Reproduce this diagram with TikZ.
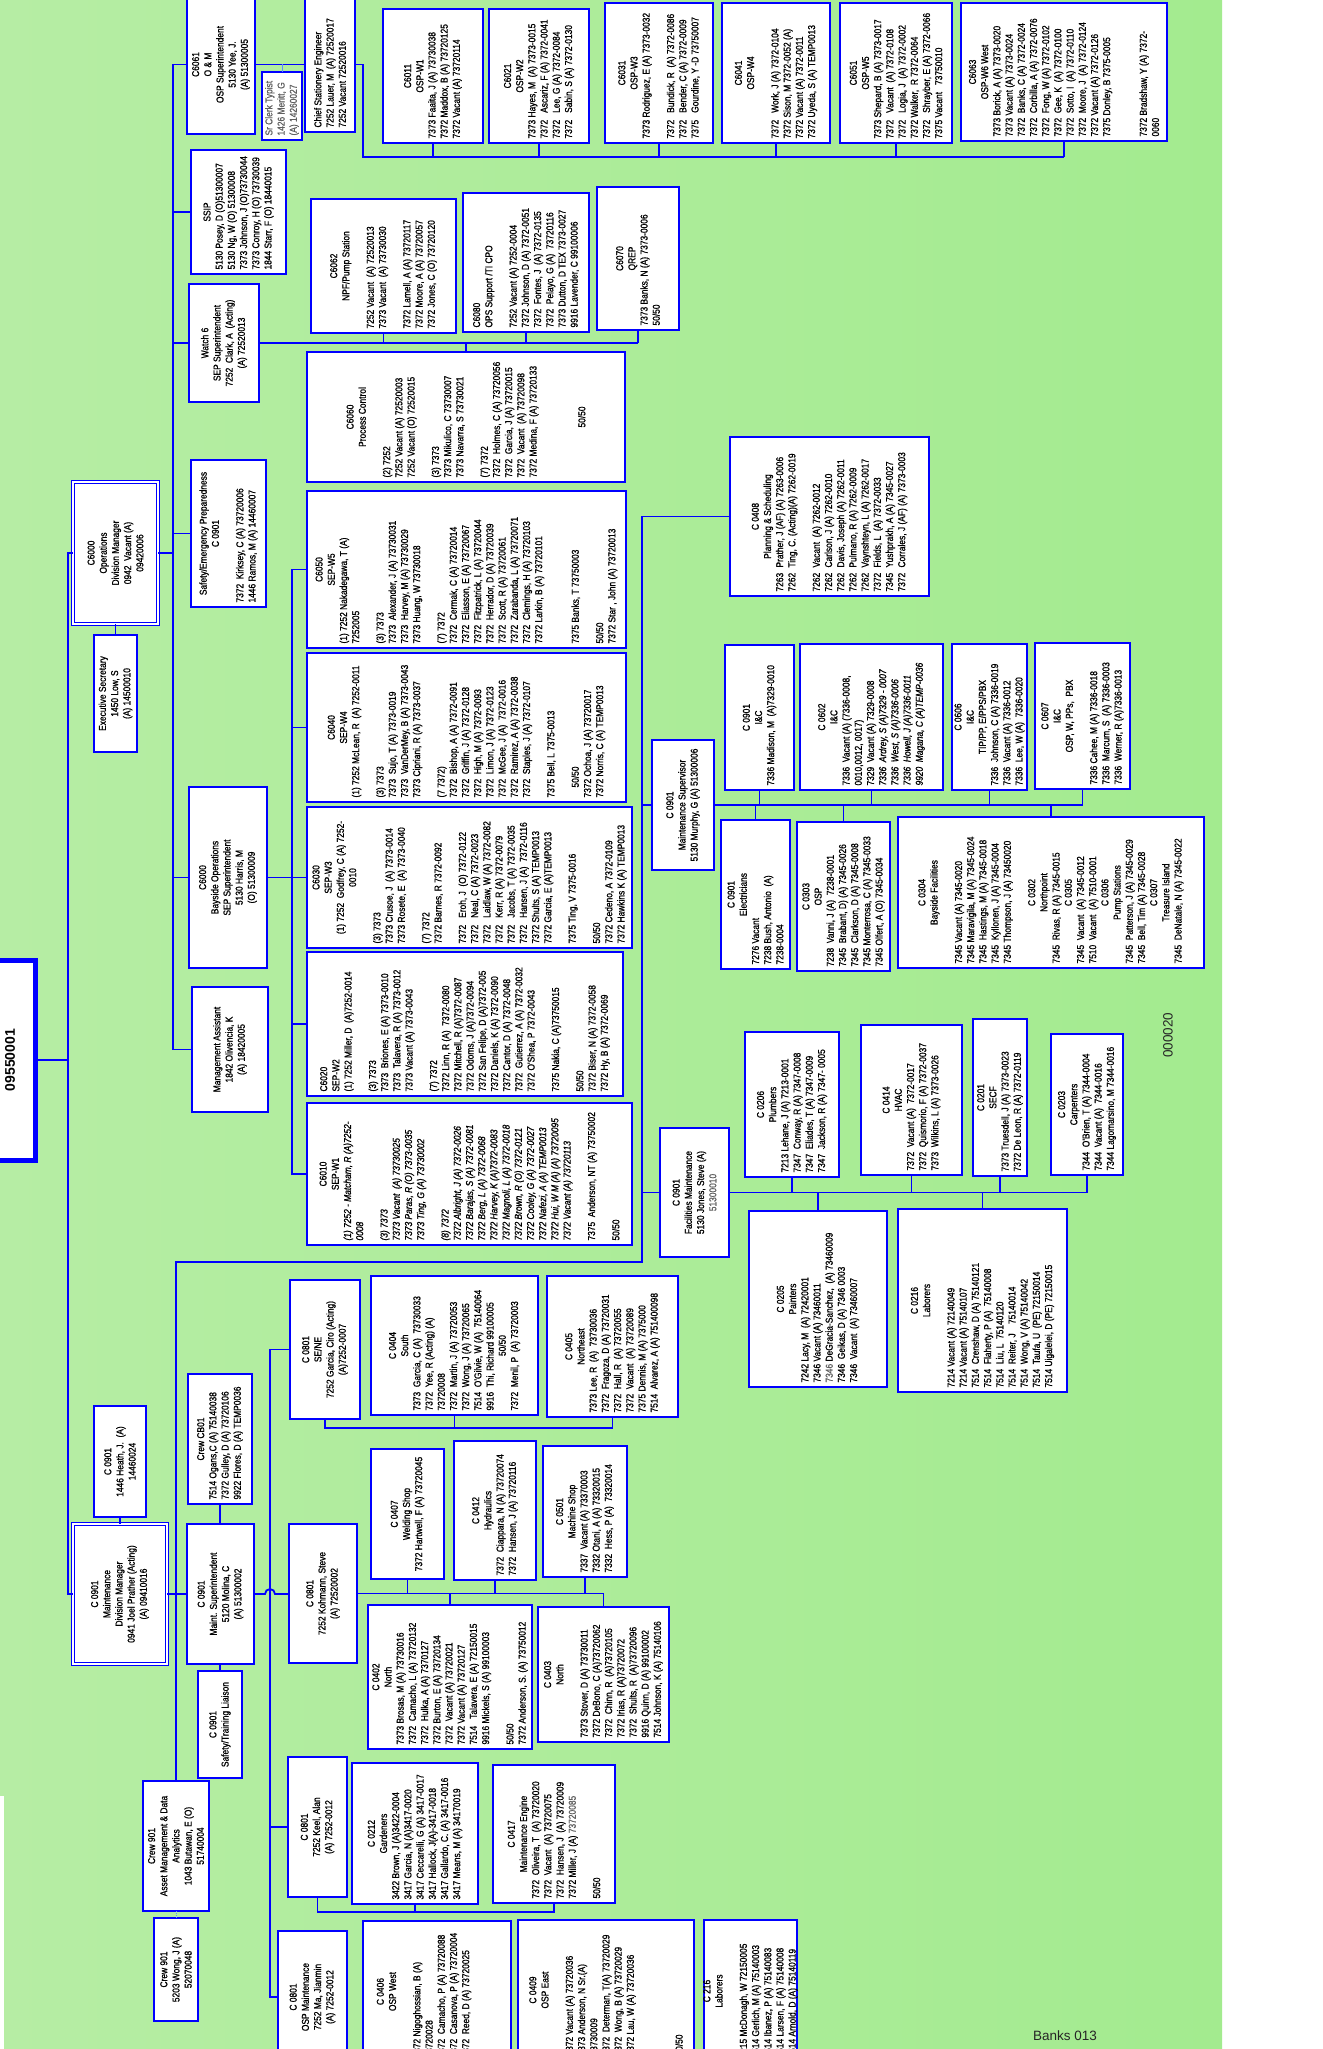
\documentclass[tikz,border=0pt]{standalone}
\usepackage{fontspec}
\newfontfamily\cond{Liberation Sans}[FakeStretch=0.84,FakeBold=1.0]
\newfontfamily\plainf{Liberation Sans}
\definecolor{grL}{HTML}{B6EDA4}
\definecolor{grR}{HTML}{A3EB8F}
\definecolor{lblue}{HTML}{5A8CFF}
\definecolor{txtgray}{HTML}{606060}
\newcommand\Ce[1]{\hbox to \hsize{\hss#1\hss}}
\newcommand\Li[1]{\hbox to \hsize{#1\hss}}
\newcommand\Bl{\hbox{}}
\newcommand\nb[1]{\makebox[2.4em][l]{#1}}
\newcommand\gr[1]{\textcolor{txtgray}{#1}}
\newcommand\obox[7][bx]{%
  \node[#1, minimum width={((#5)-(#3))*1pt}, minimum height={((#6)-(#4))*1pt}] (#2) at ({((#3)+(#5))/2},{((#4)+(#6))/2}) {};
  \pgfmathsetmacro\obtw{(#6)-(#4)-9}%
  \node[txt] at (#2.center) {\vbox{\hsize=\obtw pt #7}};}
\begin{document}
\begin{tikzpicture}[x=1pt,y=-1pt,
  bx/.style={draw=blue, line width=2pt, fill=white, inner sep=0pt, outer sep=0pt},
  dbx/.style={draw=blue, line width=1.1pt, double=white, double distance=2pt, fill=white, inner sep=0pt, outer sep=0pt},
  txt/.style={rotate=90, inner sep=0pt, outer sep=0pt, font=\cond\fontsize{10}{12.2}\selectfont, text=black},
  conn/.style={draw=blue, line width=1.8pt},
]
\useasboundingbox (0,0) rectangle (1322,2049);
\clip (0,0) rectangle (1322,2049);
\fill[white] (0,0) rectangle (1322,2049);
\shade[left color=grL, right color=grR] (0,0) rectangle (1222,2049);
\fill[white] (0,1796) rectangle (4,2049);

% ---------- top node
\node[draw=blue, line width=5pt, fill=white, minimum width=55pt, minimum height=200pt, inner sep=0pt, outer sep=0pt] (big) at (7.5,1060) {};
\node[rotate=90, font=\plainf\bfseries\fontsize{14}{16}\selectfont] at (10,1060) {09550001};

% ---------- operations
\obox[dbx]{ops}{73}{482}{158}{624}{\Ce{C6000}\Ce{Operations}\Ce{Division Manager}\Ce{0942~ Vacant (A)}\Ce{09420006}}
\obox{exec}{94}{635}{137}{752}{\Ce{Executive Secretary}\Ce{1450 Low, S}\Ce{(A) 14500010}}
\obox{c6061}{187}{-5}{255}{134}{\Ce{C6061}\Ce{O \& M}\Ce{OSP Superintendent}\Ce{5130 Yee, J.}\Ce{(A) 51300005}}
\obox{srclerk}{262}{72}{302}{140}{\Li{\gr{Sr Clerk Typist}}\Li{\gr{1426 Meritt, G}}\Li{\gr{(A) 14260027}}}
\obox{chief}{305}{-5}{355}{132}{\Li{Chief Stationery Engineer}\Li{7252 Lauer, M~ (A) 72520017}\Li{7252 Vacant 72520016}}
\obox{ssip}{191}{150}{286}{274}{\Ce{SSIP}\Li{5130 Posey, D (O)51300007}\Li{5130 Ng, W (O) 51300008}\Li{7373 Johnson, J (O)73730044}\Li{7373 Conroy, H (O) 73730039}\Li{1844 Starr, F (O) 18440015}}
\obox{watch}{189}{284}{259}{402}{\Ce{Watch 6}\Ce{SEP Superintendent}\Ce{7252~ Clark, A~ (Acting)}\Ce{(A) 72520013}}
\obox{safety}{191}{460}{266}{607}{\Ce{Safety/Emergency Preparedness}\Ce{C 0901}\Bl\Li{7372~ Kirksey, C (A) 73720006}\Li{1446 Ramos, M (A) 14460007}}
\obox{bayside}{189}{787}{267}{968}{\Ce{C6000}\Ce{Bayside Operations}\Ce{SEP Superintendent}\Ce{5130 Harris, M}\Ce{(O) 51300009}}
\obox{mgmt}{192}{987}{268}{1112}{\Ce{Management Assistant}\Ce{1842 Olivencia, K}\Ce{(A) 18420005}}

\obox{c6011}{383}{9}{483}{143}{\Ce{C6011}\Ce{OSP-W1}\Li{7373 Faaita, J (A) 73730038}\Li{7372 Maddox, B (A) 73720125}\Li{7372 Vacant (A) 73720114}}
\obox{c6021}{489}{9}{589}{143}{\Ce{C6021}\Ce{OSP-W2}\Li{7373 Hayes, M~ (A) 7373-0015}\Li{7372~~ Ascariz, F (A) 7372-0041}\Li{7372~~ Lee, G (A) 7372-0084}\Li{7372~~ Sabin, S (A) 7372-0130}}
\obox{c6031}{605}{3}{713}{143}{\Ce{C6031}\Ce{OSP-W3}\Li{7373 Rodriguez, E (A) 7373-0032}\Bl\Li{7372~~ Bundick, R~ (A) 7372-0086}\Li{7372~~ Bender, C (A) 7372-0009}\Li{7375~~ Gourdine, Y -D 73750007}}
\obox{c6041}{722}{3}{830}{143}{\Ce{C6041}\Ce{OSP-W4}\Bl\Li{7372~~ Work, J (A) 7372-0104}\Li{7372 Sison, M 7372-0052 (A)}\Li{7372 Vacant (A) 7372-0011}\Li{7372 Uyeda, S (A) TEMP0013}}
\obox{c6051}{840}{3}{952}{143}{\Ce{C6051}\Ce{OSP-W5}\Li{7373 Shepard, B (A) 7373-0017}\Li{7372~~ Vacant~ (A) 7372-0108}\Li{7372~~ Logia, J~ (A) 7372-0002}\Li{7372 Walker,~ R 7372-0064}\Li{7372~~ Shrayber, E (A) 7372-0066}\Li{7375 Vacant~~ 73750010}}
\obox{c6063}{961}{3}{1167}{141}{\Ce{C6063}\Ce{OSP-W6 West}\Li{7373 Borick, A (A) 7373-0020}\Li{7373 Vacant (A) 7373-0024}\Li{7372~ Banks, C (A) 7372-0024}\Li{7372~ Corbilla, A (A) 7372-0076}\Li{7372~ Fong, W (A) 7372-0102}\Li{7372~ Gee, K~ (A) 7372-0100}\Li{7372~ Sotto, I~ (A) 7372-0110}\Li{7372~ Moore, J~ (A) 7372-0124}\Li{7372 Vacant (A) 7372-0126}\Li{7375 Donley, B 7375-0005}\Bl\Bl\Li{7372 Bradshaw, Y (A) 7372-}\Li{0060}}

\obox{c6062}{311}{199}{456}{333}{\Ce{C6062}\Ce{NPF/Pump Station}\Bl\Li{7252 Vacant~ (A) 72520013}\Li{7373 Vacant~ (A) 73730030}\Bl\Li{7372 Lamell, A (A) 73720117}\Li{7372 Moore, A (A) 73720057}\Li{7372 Jones, C (O) 73720120}}
\obox{c6080}{463}{193}{589}{332}{\Li{C6080}\Li{OPS Support /TI CPO}\Bl\Li{7252 Vacant (A) 7252-0004}\Li{7372 Johnson, D (A) 7372-0051}\Li{7372~ Fontes, J~ (A) 7372-0135}\Li{7372~ Pelayo, G (A)~ 73720116}\Li{7373 Dutton, D TEX 7373-0027}\Li{9916 Lavender, C 99100006}}
\obox{c6070}{597}{187}{679}{330}{\Ce{C6070}\Ce{QREP}\Li{7373 Banks, N (A) 7373-0006}\Li{50/50}}
\obox{c6060}{307}{352}{625}{482}{\Ce{C6060}\Ce{Process Control}\Bl\Li{(2) 7252}\Li{7252 Vacant (A) 72520003}\Li{7252 Vacant (O) 72520015}\Bl\Li{(3) 7373}\Li{7373 Mikulico, C 73730007}\Li{7373 Navarra, S 73730021}\Bl\Li{(7) 7372}\Li{7372~ Holmes, C (A) 73720056}\Li{7372~ Garcia, J (A) 73720015}\Li{7372~ Vacant~ (A) 73720098}\Li{7372 Medina, F (A) 73720133}\Bl\Bl\Bl\Ce{50/50}}

\obox{c6050}{307}{491}{626}{648}{\Ce{C6050}\Ce{SEP-W5}\Li{(1) 7252 Nakadegawa, T (A)}\Li{7252005}\Bl\Li{(3) 7373}\Li{7373~ Alexander, J (A) 73730031}\Li{7373~ Harvey, M (A) 73730029}\Li{7373 Huang, W 73730018}\Bl\Li{(7) 7372}\Li{7372~ Cermak, C (A) 73720014}\Li{7372~ Eliasson, E (A) 73720067}\Li{7372~ Fitzpatrick, L (A) 73720044}\Li{7372~ Herrador, D (A) 73720039}\Li{7372~ Scott, R (A) 73720061}\Li{7372~ Zarabanda, L (A) 73720071}\Li{7372~ Clemings, H (A) 73720103}\Li{7372 Larkin, B (A) 73720101}\Bl\Bl\Li{7375 Banks, T 73750003}\Bl\Li{50/50}\Li{7372 Star , John (A) 73720013}}
\obox{c6040}{307}{653}{626}{802}{\Ce{C6040}\Ce{SEP-W4}\Li{(1) 7252 McLean, R~ (A) 7252-0011}\Bl\Li{(3) 7373}\Li{7373~ Sujo, T (A) 7373-0019}\Li{7373~ VanDerMey, B (A) 7373-0043}\Li{7373 Cipriani, R (A) 7373-0037}\Bl\Li{(7 7372)}\Li{7372~ Bishop, A (A) 7372-0091}\Li{7372~ Griffin, J (A) 7372-0128}\Li{7372~ High, M (A) 7372-0093}\Li{7372~ Limon, J (A) 7372-0123}\Li{7372~ McGee, J (A)~ 7372-0016}\Li{7372~ Ramirez, A (A) 7372-0038}\Li{7372~ Staples, J (A) 7372-0107}\Bl\Li{7375 Bell, L 7375-0013}\Bl\Li{\hspace{10pt}50/50}\Li{7372 Ochoa, J (A) 73720017}\Li{7372 Norris, C (A) TEMP0013}}
\obox{c6030}{307}{807}{632}{948}{\Ce{C6030}\Ce{SEP-W3}\Ce{(1) 7252~ Godfrey, C (A) 7252-}\Ce{0010}\Bl\Li{(3) 7373}\Li{7373 Crusoe, J~ (A) 7373-0014}\Li{7373 Rosete, E~ (A) 7373-0040}\Bl\Li{(7) 7372}\Li{7372 Barnes, R 7372-0092}\Bl\Li{7372~~ Eroh, J~ (O) 7372-0122}\Li{7372~~ Neal, C (A) 7372-0023}\Li{7372~~ Laidlaw, W (A) 7372-0082}\Li{7372~~ Kerr, R (A) 7372-0079}\Li{7372~~ Jacobs, T (A) 7372-0035}\Li{7372~~ Hansen, J (A)~ 7372-0116}\Li{7372 Shults, S (A) TEMP0013}\Li{7372 Garcia, E (A)TEMP0013}\Bl\Li{7375 Ting, V 7375-0016}\Bl\Li{50/50}\Li{7372 Cedeno, A 7372-0109}\Li{7372 Hawkins K (A) TEMP0013}}
\obox{c6020}{307}{952}{623}{1096}{\Li{C6020}\Li{SEP-W2}\Li{(1) 7252 Miller, D~ (A)7252-0014}\Bl\Li{(3) 7373}\Li{7373~ Briones, E (A) 7373-0010}\Li{7373~ Talavera, R (A) 7373-0012}\Li{7373 Vacant (A) 7373-0043}\Bl\Li{(7) 7372}\Li{7372 Linn, R (A)~ 7372-0080}\Li{7372 Mitchell, R (A)7372-0087}\Li{7372 Odoms, J (A)7372-0094}\Li{7372 San Felipe, D (A)7372-005}\Li{7372 Daniels, K (A) 7372-0090}\Li{7372 Cantor, D (A) 7372-0048}\Li{7372~ Gutierrez, A (A) 7372-0032}\Li{7372 O'Shea, P 7372-0043}\Bl\Li{7375 Nakia, C (A)73750015}\Bl\Li{50/50}\Li{7372 Biser, N (A) 7372-0058}\Li{7372 Hy, B (A) 7372-0069}}
\obox{c6010}{307}{1103}{632}{1245}{\Ce{C6010}\Ce{SEP-W1}\Li{\itshape (1) 7252 - Matcham, R (A)7252-}\Li{\itshape 0008}\Bl\Li{\itshape (3) 7373}\Li{\itshape 7373 Vacant~ (A) 73730025}\Li{\itshape 7373 Paras, R (O) 7373-0035}\Li{\itshape 7373 Ting, G (A) 73730002}\Bl\Li{\itshape (8) 7372}\Li{\itshape 7372 Albright, J (A) 7372-0026}\Li{\itshape 7372 Barajas, S (A) 7372-0081}\Li{\itshape 7372 Berg, L (A) 7372-0068}\Li{\itshape 7372 Harvey, K (A)7372-0083}\Li{\itshape 7372 Magnoli, L (A) 7372-0018}\Li{\itshape 7372 Brown, R (O) 7372-0121}\Li{\itshape 7372 Cooley, G (A) 7372-0027}\Li{\itshape 7372 Nafezi, A (A) TEMP0013}\Li{\itshape 7372 Hui, W M (A) (A) 73720095}\Li{\itshape 7372 Vacant (A) 73720113}\Bl\Li{7375~ Anderson, NT (A) 73750002}\Bl\Li{50/50}}

% ---------- maintenance
\obox[dbx]{mdm}{73}{1524}{167}{1664}{\Ce{C 0901}\Ce{Maintenance}\Ce{Division Manager}\Ce{0941 Joel Prather (Acting)}\Ce{(A) 09410016}}
\obox{heath}{94}{1406}{146}{1517}{\Ce{C 0901}\Ce{1446 Heath, J.~ (A)}\Ce{14460024}}
\obox{msup}{187}{1524}{254}{1664}{\Ce{C 0901}\Ce{Maint. Superintendent}\Ce{5120 Molina, C}\Ce{(A) 51300002}}
\obox{cb01}{188}{1374}{252}{1504}{\Ce{Crew CB01}\Li{7514 Ogans,C (A) 75140038}\Li{7372 Gulley, D (A) 73720106}\Li{9922 Flores, D (A) TEMP0036}}
\obox{saftr}{198}{1671}{242}{1778}{\Ce{C 0901}\Ce{Safety/Training Liaison}}
\obox{asset}{143}{1781}{209}{1911}{\Ce{Crew 901}\Ce{Asset Management \& Data}\Ce{Analytics}\Ce{1043 Butawan, E (O)}\Ce{51740004}}
\obox{wong}{154}{1918}{198}{2021}{\Ce{Crew 901}\Ce{5203 Wong, J (A)}\Ce{52070048}}
\obox{sene}{290}{1280}{360}{1419}{\Ce{C 0801}\Ce{SE/NE}\Ce{7252 Garcia, Ciro (Acting)}\Ce{(A)7252-0007}}
\obox{c0404}{371}{1276}{538}{1415}{\Ce{C 0404}\Ce{South}\Li{7373~ Garcia, C (A)~ 73730033}\Li{7372~ Yee, R (Acting) (A)}\Li{73720008}\Li{7372~ Martin, J (A) 73720053}\Li{7372~ Wong, J (A) 73720065}\Li{7514~ O'Gilvie, W (A)~ 75140064}\Li{9916~ Thi, Richard 99100005}\Ce{50/50}\Li{7372~ Menil, P~ (A) 73720003}}
\obox{c0405}{547}{1276}{678}{1417}{\Ce{C 0405}\Ce{Northeast}\Li{7373 Lee, R~ (A)~ 73730036}\Li{7372~ Fragoza, D (A) 73720031}\Li{7372~ Hall, R~ (A) 73720055}\Li{7372~ Vacant~ (A) 73720089}\Li{7375 Dennis, M (A) 7375000}\Li{7514~ Alvarez, A (A) 751400098}}
\obox{kohm}{289}{1524}{357}{1663}{\Ce{C 0801}\Ce{7252 Kohmann, Steve}\Ce{(A) 72520002}}
\obox{c0407}{371}{1449}{444}{1579}{\Ce{C 0407}\Ce{Welding Shop}\Ce{7372 Hartwell, F (A) 73720045}}
\obox{c0412}{454}{1441}{536}{1580}{\Ce{C 0412}\Ce{Hydraulics}\Li{7372~ Ciappara, N (A) 73720074}\Li{7372~ Hansen, J (A) 73720116}}
\obox{c0501}{543}{1446}{627}{1577}{\Ce{C 0501}\Ce{Machine Shop}\Li{7337~ Vacant (A) 73370003}\Li{7332 Otani, A (A) 73320015}\Li{7332~ Hess, P (A)~ 73320014}}
\obox{c0402}{368}{1605}{532}{1749}{\Ce{C 0402}\Ce{North}\Li{7373 Brosas, M (A) 73730016}\Li{7372~ Camacho, L (A) 73720132}\Li{7372~ Hulka, A (A) 7370127}\Li{7372 Burton, E (A) 73720134}\Li{7372~ Vacant (A) 73720021}\Li{7372 Vacant (A) 73720127}\Li{7514~~ Talavera, E (A) 72150015}\Li{9916 Mickels, S (A) 99100003}\Bl\Li{50/50}\Li{7372 Anderson, S. (A) 73750012}}
\obox{c0403}{538}{1607}{669}{1742}{\Ce{C 0403}\Ce{North}\Bl\Li{7373 Stover, D (A) 73730011}\Li{7372 DeBono, C (A)73720062}\Li{7372~ Chinn, R~ (A)73720105}\Li{7372 Irias, R (A)73720072}\Li{7372~ Shults, R~ (A)73720096}\Li{9916 Quinn, D (A) 99100002}\Li{7514 Johnson, K (A) 75140106}}
\obox{keel}{288}{1757}{347}{1897}{\Ce{C 0801}\Ce{7252 Keel, Alan}\Ce{(A) 7252-0012}}
\obox{c0212}{352}{1763}{478}{1904}{\Ce{C 0212}\Ce{Gardeners}\Li{3422 Brown, J (A)3422-0004}\Li{3417 Garcia, N (A)3417-0020}\Li{3417 Ceccarelli, G (A) 3417-0017}\Li{3417 Hallock, J(A)-3417-0018}\Li{3417 Gallardo, C. (A) 3417-0016}\Li{3417 Means, M (A) 34170019}}
\obox{c0417}{493}{1765}{615}{1903}{\Ce{C 0417}\Ce{Maintenance Engine}\Li{7372~ Oliveira, T~ (A) 73720020}\Li{7372~ Vacant~ (A) 73720075}\Li{7372~ Hansen, J~ (A) 73720009}\Li{7372 Miller, J (A) \gr{73720085}}\Bl\Li{50/50}}
\obox{ospm}{278}{1931}{347}{2063}{\Ce{C 0801}\Ce{OSP Maintenance}\Ce{7252 Ma, Jianmin}\Ce{(A) 7252-0012}}
\obox{c0406}{363}{1921}{511}{2062}{}
\node[txt] at ([xshift=-13pt]c0406.center) {\vbox{\hsize=132pt \Ce{C 0406}\Ce{OSP West}\Bl\Li{7372 Nigoghossian, B (A)}\Li{73720028}\Li{7372~ Camacho, P (A) 73720088}\Li{7372~ Casanova, P (A) 73720004}\Li{7372~ Reed, D (A) 73720025}}};
\obox{c0409}{518}{1920}{694}{2060}{\Ce{C 0409}\Ce{OSP East}\Bl\Li{7372 Vacant (A) 73720036}\Li{7373 Anderson, N Sr.(A)}\Li{73730009}\Li{7372~ Determan, T(A) 73720029}\Li{7372~ Wong, B (A) 73720029}\Li{7372 Lau, W (A) 73720036}\Bl\Bl\Bl\Li{50/50}}
\obox{c216}{704}{1920}{797}{2062}{\Ce{C 216}\Ce{Laborers}\Bl\Li{7215 McDonagh, W 72150005}\Li{7514 Gerlich, M (A) 75140003}\Li{7514 Ibanez, P (A) 75140083}\Li{7514 Larsen, F (A) 75140008}\Li{7514 Arnold, D (A) 75140119}}

\obox{c0408}{730}{437}{929}{596}{\Ce{C 0408}\Ce{Planning \& Scheduling}\Li{\nb{7263}Prather, J (AF) (A) 7263-0006}\Li{\nb{7262}Ting, C. (Acting)(A) 7262-0019}\Bl\Li{\nb{7262}Vacant~ (A) 7262-0012}\Li{\nb{7262}Carlson, J (A) 7262-0010}\Li{\nb{7262}Davis, Joseph (A) 7262-0011}\Li{\nb{7262}Pulmano, R (A) 7262-0009}\Li{\nb{7262}Vaynshteyn, L (A) 7262-0017}\Li{\nb{7372}Fields, L~ (A) 7372-0033}\Li{\nb{7345}Yushprakh, A (A) 7345-0027}\Li{\nb{7372}Corrales, J (AF) (A) 7373-0003}}
\obox{msv}{652}{740}{714}{870}{\Ce{C 0901}\Ce{Maintenance Supervisor}\Ce{5130 Murphy, G (A) 51300006}}
\obox{c0901ic}{725}{645}{794}{790}{\Ce{C 0901}\Ce{I\&C}\Li{7336 Madison, M~ (A)7329-0010}}
\obox{c0602}{800}{644}{943}{790}{\Ce{C 0602}\Ce{I\&C}\Li{7336~ Vacant (A) (7336-0008,}\Li{0010,0012, 0017)}\Li{7329~ Vacant (A) 7329-0008}\Li{\itshape 7336~ Ardrey, S (A)7329 - 0007}\Li{\itshape 7336~ West, S (A)7336-0006}\Li{\itshape 7336~ Howell, J (A)7336-0011}\Li{\itshape 9920~ Magana, C (A)TEMP-0036}}
\obox{c0606}{952}{644}{1027}{790}{\Ce{C 0606}\Ce{I\&C}\Ce{TIP/PP, E/PPS/PBX}\Li{7336~ Johnson, C (A) 7336-0019}\Li{7336~ Vacant (A) 7336-0012}\Li{7336~ Lee, W (A)~ 7336-0020}}
\obox{c0607}{1035}{643}{1130}{789}{\Ce{C 0607}\Ce{I\&C}\Ce{OSP, W, PPs,~ PBX}\Bl\Li{7336 Cahee, M (A) 7336-0018}\Li{7336~ Marcum, S~ (A) 7336-0003}\Li{7336~ Werner, R (A)7336-0013}}
\obox{elec}{721}{820}{790}{969}{\Ce{C 0901}\Ce{Electricians}\Li{7276 Vacant}\Li{7238 Bush, Antonio~ (A)}\Li{7238-0004}}
\obox{c0303}{797}{822}{890}{971}{\Ce{C 0303}\Ce{OSP}\Li{7238~ Vanni, J (A)~ 7238-0001}\Li{7345~ Brabant, D) (A) 7345-0026}\Li{7345~ Clarkson, D (A) 7345-0008}\Li{7345 Monterrosa, C (A) 7345-0033}\Li{7345 Olfert, A (O) 7345-0034}}
\obox{c0304}{898}{817}{1204}{968}{\Ce{C 0304}\Ce{Bayside Facilities}\Bl\Li{7345 Vacant (A) 7345-0020}\Li{7345 Maravigila, M (A) 7345-0024}\Li{7345~ Hastings, M (A) 7345-0018}\Li{7345~ Kyllonen, J (A) 7345-0004}\Li{7345 Thompson, J (A) 73450020}\Bl\Ce{C 0302}\Ce{Northpoint}\Li{7345~ Rivas, R (A) 7345-0015}\Ce{C 0305}\Li{7345~ Vacant~ (A) 7345-0012}\Li{7510~ Vacant~ (A) 7510-0001}\Ce{C 0306}\Ce{Pump Stations}\Li{7345~ Patterson, J (A) 7345-0029}\Li{7345~ Bell, Tim (A) 7345-0028}\Ce{C 0307}\Ce{Treasure Island}\Li{7345~ DeNatale, N (A) 7345-0022}}
\obox{fac}{660}{1128}{729}{1257}{\Ce{C 0901}\Ce{Facilities Maintenance}\Ce{5130 Jones, Steve (A)}\Ce{\gr{51300010}}}
\obox{c0206}{745}{1032}{839}{1177}{\Ce{C 0206}\Ce{Plumbers}\Li{7213 Lehane, J (A) 7213-0001}\Li{7347~ Conway, R (A) 7347-0008}\Li{7347~ Eliades, T (A) 7347-0009}\Li{7347~ Jackson, R (A) 7347- 0005}}
\obox{c0414}{861}{1025}{962}{1175}{\Ce{C 0414}\Ce{HVAC}\Li{7372~ Vacant (A)~ 7372-0017}\Li{7372~ Quismorio, F (A) 7372-0037}\Li{7373~ Wilkins, L (A) 7373-0026}}
\obox{c0201}{973}{1019}{1027}{1176}{\Ce{C 0201}\Ce{SECF}\Li{7373 Truesdell, J (A) 7373-0023}\Li{7372 De Leon, R (A) 7372-0119}}
\obox{c0203}{1051}{1034}{1123}{1175}{\Ce{C 0203}\Ce{Carpenters}\Li{7344~ O'Brien, T (A) 7344-0004}\Li{7344~ Vacant (A)~ 7344-0016}\Li{7344 Lagomarsino, M 7344-0016}}
\obox{c0205}{749}{1211}{887}{1387}{\Ce{C 0205}\Ce{Painters}\Li{7242 Lacy, M~ (A) 72420001}\Li{7346 Vacant (A) 73460011}\Li{\gr{7346} DeGracia-Sanchez,~ (A) 73460009}\Li{7346~ Geikas, D (A) 7346 0003}\Li{7346~ Vacant~ (A) 73460007}}
\obox{c0216}{898}{1209}{1067}{1392}{\Ce{C 0216}\Ce{Laborers}\Bl\Li{7214 Vacant (A) 72140049}\Li{7214 Vacant (A) 75140107}\Li{7514~ Crenshaw, D (A) 75140121}\Li{7514~ Flaherty, P (A)~ 75140008}\Li{7514~ Liu, L~ 75140120}\Li{7514~ Reiter, J~~~ 75140014}\Li{7514~ Wong, V (A) 75140042}\Li{7514~ Taufa, U~ (PE) 72150014}\Li{7514 Uigalelei, D (PE) 72150015}}

% ---------- free texts
\node[rotate=90, font=\plainf\fontsize{13.5}{15}\selectfont, text=black!85] (pg) at (1168,1035) {000020};
\node[font=\plainf\fontsize{13.5}{15}\selectfont, text=black!85] (bk) at (1065,2036) {Banks 013};

% ---------- connectors: operations
\draw[conn] (ops.west) -- ++(-5,0) |- (mdm.west);
\draw[conn] (big.east) -- (big.east -| 68,0);
\draw[conn] (ops.east) -- (ops.east -| 173,0);
\draw[conn] (c6061.west) -- (c6061.west -| 173,0) -- (mgmt.west -| 173,0) -- (mgmt.west);
\foreach \nn in {ssip,watch,safety,bayside} \draw[conn] (\nn.west) -- (\nn.west -| 173,0);
\draw[conn] (ops.south) -- (exec.north);
\draw[conn] (c6061.east) -- (c6061.east -| chief.west);
\draw[lblue, line width=1pt] (srclerk.north) -- (srclerk.north |- c6061.east);
\draw[conn] (chief.east |- c6061.east) -- ++(8,0) |- (c6063.south |- 0,157);
\foreach \nn in {c6011,c6021,c6031,c6041,c6051,c6063} \draw[conn] (\nn.south) -- (\nn.south |- 0,157);
\draw[conn] (watch.east) -- (watch.east -| c6070.south);
\foreach \nn in {c6062,c6080,c6070} \draw[conn] (\nn.south) -- (\nn.south |- watch.east);
\draw[conn] (c6060.north) -- (c6060.north |- watch.east);
\draw[conn] (bayside.east) -- (bayside.east -| 292,0);
\draw[conn] (c6050.west) -- (c6050.west -| 292,0) -- (c6010.west -| 292,0) -- (c6010.west);
\foreach \nn in {c6040,c6030,c6020} \draw[conn] (\nn.west) -- (\nn.west -| 292,0);

% ---------- connectors: maintenance
\draw[conn] (mdm.east) -- (msup.west);
\draw[conn] (asset.north) -- (asset.north |- 0,1262) -- (642,1262) -- (c0408.west -| 642,0) -- (c0408.west);
\draw[conn] (msv.west) -- (msv.west -| 642,0);
\draw[conn] (fac.west) -- (fac.west -| 642,0);
\draw[conn] (heath.south) -- (heath.south |- mdm.north);
\draw[conn] (cb01.south) -- (cb01.south |- msup.north);
\draw[conn] (saftr.north) -- (saftr.north |- msup.south);
\draw[lblue, densely dotted, line width=1pt] (asset.south) -- (asset.south |- wong.north);
\draw[conn] (sene.west) -- (sene.west -| 270,0) -- (ospm.west -| 270,0) -- (ospm.west);
\draw[conn] (keel.west) -- (keel.west -| 270,0);
\draw[conn] (msup.east) -- (msup.east -| 265,0) arc[start angle=180,end angle=0,radius=5pt] -- (msup.east -| kohm.west);
\draw[conn] (sene.south) -- ++(0,9) -| (c0405.south);
\draw[conn] (c0404.south) -- (c0404.south |- 0,1428);
\draw[conn] (kohm.east) -- (kohm.east -| c0403.north);
\foreach \nn in {c0407,c0412,c0501} \draw[conn] (\nn.south) -- (\nn.south |- kohm.east);
\foreach \nn in {c0402,c0403} \draw[conn] (\nn.north) -- (\nn.north |- kohm.east);
\draw[conn] (keel.south) -- ++(0,15) -| (c0417.south);
\draw[conn] (c0212.south) -- (c0212.south |- 0,1912);
\draw[conn] (msv.east) -- (msv.east -| c0607.south);
\foreach \nn in {c0901ic,c0602,c0606,c0607} \draw[conn] (\nn.south) -- (\nn.south |- msv.east);
\foreach \nn in {elec,c0303,c0304} \draw[conn] (\nn.north) -- (\nn.north |- msv.east);
\draw[conn] (fac.east) -- (fac.east -| c0203.south);
\foreach \nn in {c0206,c0414,c0201,c0203} \draw[conn] (\nn.south) -- (\nn.south |- fac.east);
\foreach \nn in {c0205,c0216} \draw[conn] (\nn.north) -- (\nn.north |- fac.east);
\end{tikzpicture}
\end{document}
